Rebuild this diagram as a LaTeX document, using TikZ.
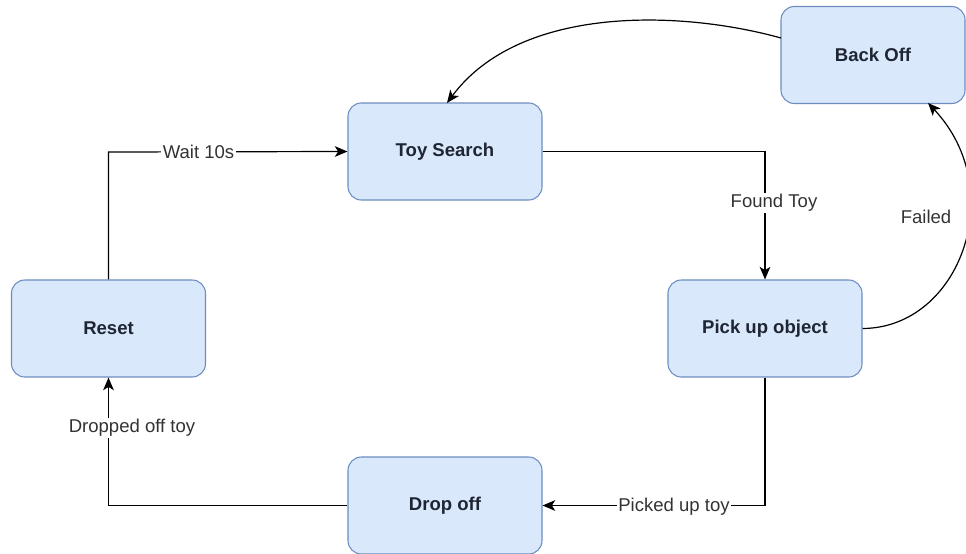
\documentclass[tikz,border=0pt]{standalone}
\usepackage{fontspec}
\setmainfont{Liberation Sans}
\usetikzlibrary{arrows.meta}
\definecolor{nodefill}{HTML}{DAE8FC}
\definecolor{nodeline}{HTML}{6C8EBF}
\definecolor{nodetext}{HTML}{1E2533}
\definecolor{labeltext}{HTML}{333333}
\begin{document}
\begin{tikzpicture}[x=0.75pt,y=-0.75pt,
  state/.style={draw=nodeline, fill=nodefill, line width=0.8pt, rounded corners=10pt,
    minimum width=145.5pt, minimum height=72.75pt, inner sep=0pt,
    font=\fontsize{13.9pt}{16pt}\selectfont\bfseries, text=nodetext},
  conn/.style={draw=black, line width=0.9pt, -{Stealth[length=9.5pt,width=8pt,inset=2.5pt]}},
  elabel/.style={fill=white, inner sep=1pt, text=labeltext, font=\fontsize{13.9pt}{16pt}\selectfont}
]
\useasboundingbox (0,0) rectangle (966,553);
\node[state] (toy) at (445,151.5) {Toy Search};
\node[state] (reset) at (108.5,328.5) {Reset};
\node[state] (pick) at (765,328.5) {Pick up object};
\node[state] (drop) at (445,505.5) {Drop off};
\node[state, minimum width=138pt] (back) at (873,55) {Back Off};

\coordinate (c1) at (108.5,152);
\draw[conn] (reset.north) -- (c1) -- (toy.west);
\node[elabel] (l1) at (198.5,152) {Wait 10s};

\coordinate (c2) at (765,151.5);
\draw[conn] (toy.east) -- (c2) -- (pick.north);
\node[elabel] (l2) at (774,203) {Found Toy};

\coordinate (c3) at (765,505.5);
\draw[conn] (pick.south) -- (c3) -- (drop.east);
\node[elabel] (l3) at (674,507) {Picked up toy};

\coordinate (c4) at (108.5,505.5);
\draw[conn] (drop.west) -- (c4) -- (reset.south);
\node[elabel] (l4) at (132,428) {Dropped off toy};

\coordinate (b1) at (928,103);
\draw[conn] (pick.east) .. controls (960,328) and (1010,190) .. (b1);
\node[text=labeltext, font=\fontsize{13.9pt}{16pt}\selectfont] (l5) at (926,217) {Failed};

\coordinate (t1) at (781,38);
\coordinate (t2) at (447,103);
\draw[conn] (t1) .. controls (680,10) and (520,5) .. (t2);
\end{tikzpicture}
\end{document}
